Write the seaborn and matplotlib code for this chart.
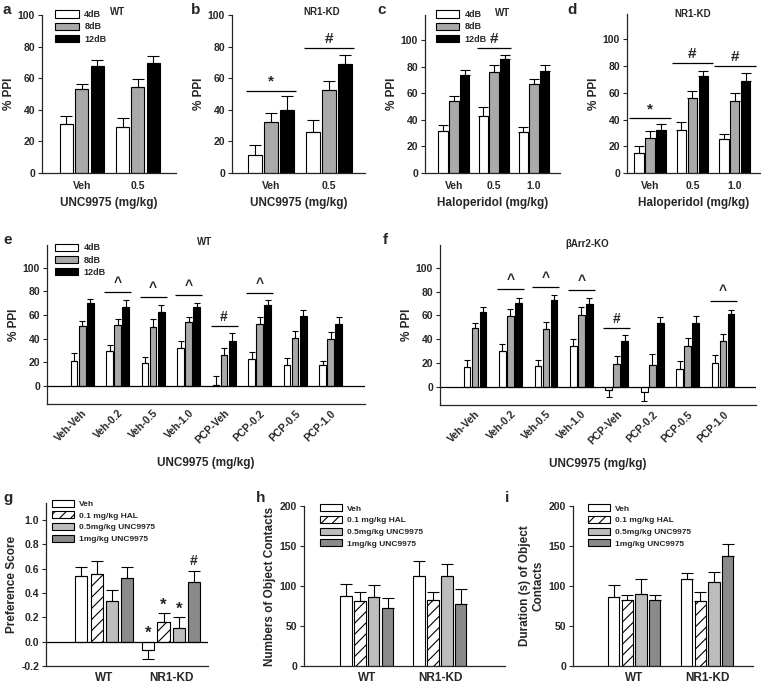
import numpy as np
import pandas as pd
import matplotlib
matplotlib.use('Agg')
import matplotlib.pyplot as plt
from matplotlib.container import BarContainer
import seaborn as sns

sns.set_style('ticks')
plt.rcParams['font.family'] = ['Liberation Sans', 'DejaVu Sans']
plt.rcParams['font.weight'] = 'bold'
plt.rcParams['axes.labelweight'] = 'bold'
plt.rcParams['hatch.linewidth'] = 0.8

# ---- data ----
db_levels = ['4dB', '8dB', '12dB']
db_colors = ['white', '#a9a9a9', 'black']

# a: WT, UNC9975
a_groups = ['Veh', '0.5']
a_4, a_4e = [31, 29], [5, 6]
a_8, a_8e = [53, 54.5], [3.5, 5]
a_12, a_12e = [67.5, 69.5], [4, 4.5]

# b: NR1-KD, UNC9975
b_groups = ['Veh', '0.5']
b_4, b_4e = [11.5, 26], [6, 7.5]
b_8, b_8e = [32, 52.5], [6, 6]
b_12, b_12e = [40, 69], [8.5, 6]
b_sig = [('Veh', 52, '*'), ('0.5', 79, '#')]

# c: WT, haloperidol
c_groups = ['Veh', '0.5', '1.0']
c_4, c_4e = [32, 43, 31], [4, 7, 4]
c_8, c_8e = [54.5, 76, 67], [3.5, 5, 4]
c_12, c_12e = [73.5, 86, 77], [4, 3, 4]
c_sig = [('0.5', 94, '#')]

# d: NR1-KD, haloperidol
d_groups = ['Veh', '0.5', '1.0']
d_4, d_4e = [15, 32, 25.5], [5, 6, 4]
d_8, d_8e = [26, 56, 54], [5.5, 5, 6]
d_12, d_12e = [32.5, 72.5, 69], [4.5, 4, 5.5]
d_sig = [('Veh', 41, '*'), ('0.5', 82, '#'), ('1.0', 80, '#')]

# e: WT, PCP + UNC9975
ef_groups = ['Veh-Veh', 'Veh-0.2', 'Veh-0.5', 'Veh-1.0',
             'PCP-Veh', 'PCP-0.2', 'PCP-0.5', 'PCP-1.0']
e_4 = [21.5, 29.5, 19.5, 32, 1, 23, 18, 17.5]
e_4e = [6.5, 5, 5.5, 6, 7.5, 6, 6, 4]
e_8 = [50.5, 52, 49.5, 54, 26, 52.5, 40.5, 39.5]
e_8e = [4.5, 5, 7, 4, 6, 5.5, 6, 6.5]
e_12 = [70, 67, 62.5, 66.5, 38, 68.5, 59.5, 52.5]
e_12e = [3.5, 5.5, 6, 4, 6.5, 4, 5, 5.5]
e_sig = [('Veh-0.2', 79, '^'), ('Veh-0.5', 75.5, '^'), ('Veh-1.0', 76.5, '^'),
         ('PCP-Veh', 51, '#'), ('PCP-0.2', 78.5, '^')]

# f: bArr2-KO, PCP + UNC9975
f_4 = [17, 30, 18, 34, -2.5, -4.5, 15.5, 20]
f_4e = [6, 6, 5, 6.5, 6, 7, 6.5, 6.5]
f_8 = [49.5, 59.5, 49, 60, 19, 18.5, 34.5, 38.5]
f_8e = [4.5, 5.5, 5.5, 7, 7, 9.5, 7, 6]
f_12 = [63, 70.5, 73, 69.5, 39, 54, 54, 61.5]
f_12e = [4, 4.5, 4, 5.5, 4.5, 5, 5.5, 3]
f_sig = [('Veh-0.2', 82, '^'), ('Veh-0.5', 83.5, '^'), ('Veh-1.0', 81, '^'),
         ('PCP-Veh', 49.5, '#'), ('PCP-1.0', 72.5, '^')]

# g-i: novel object recognition
nor_groups = ['WT', 'NR1-KD']
nor_levels = ['Veh', '0.1 mg/kg HAL', '0.5mg/kg UNC9975', '1mg/kg UNC9975']
nor_colors = ['white', 'white', '#bdbdbd', '#8a8a8a']

g_veh, g_vehe = [0.54, -0.07], [0.075, 0.07]
g_hal, g_hale = [0.555, 0.165], [0.11, 0.07]
g_u05, g_u05e = [0.335, 0.11], [0.09, 0.09]
g_u1, g_u1e = [0.525, 0.49], [0.085, 0.095]
g_marks = ['*', '*', '*', '#']
g_mark_y = [0.07, 0.30, 0.27, 0.66]

h_veh, h_vehe = [88, 113], [15, 18.5]
h_hal, h_hale = [81, 83], [12, 10]
h_u05, h_u05e = [86, 113], [15, 15]
h_u1, h_u1e = [72, 78], [13.5, 18.5]

i_veh, i_vehe = [86, 109], [15.5, 7.5]
i_hal, i_hale = [82, 81.5], [7, 10.5]
i_u05, i_u05e = [89.5, 105.5], [19.5, 12]
i_u1, i_u1e = [82, 138], [7, 15]

W, H = 761, 687
fig = plt.figure(figsize=(W / 100, H / 100), dpi=100)


def make_ax(l, r, t, b):
    return fig.add_axes([l / W, 1 - b / H, (r - l) / W, (b - t) / H])


def bar_conts(ax):
    return [c for c in ax.containers if isinstance(c, BarContainer)]


def bars(ax, groups, levels, colors, vals, errs, width, gap, cap, hatch=None):
    rows = []
    for lev, v in zip(levels, vals):
        for g, y in zip(groups, v):
            rows.append({'group': g, 'level': lev, 'val': y})
    df = pd.DataFrame(rows)
    sns.barplot(data=df, x='group', y='val', hue='level', order=groups,
                hue_order=levels, palette=colors, edgecolor='black',
                linewidth=0.8, errorbar=None, width=width, gap=gap,
                legend=False, ax=ax, saturation=1)
    for k, (cont, e) in enumerate(zip(bar_conts(ax), errs)):
        for bar, err in zip(cont, e):
            if hatch and hatch[k]:
                bar.set_hatch(hatch[k])
            x = bar.get_x() + bar.get_width() / 2
            h = bar.get_height()
            yerr = [[0], [err]] if h >= 0 else [[err], [0]]
            ax.errorbar(x, h, yerr=yerr, fmt='none', ecolor='black',
                        elinewidth=0.8, capsize=cap, capthick=0.8)
    ax.set_xlabel('')
    ax.set_ylabel('')
    sns.despine(ax=ax)
    ax.tick_params(axis='x', length=0, labelsize=7.5, pad=6)
    ax.tick_params(axis='y', length=3, width=0.8, labelsize=7.5, pad=2)
    for s in ax.spines.values():
        s.set_linewidth(0.9)


def sig_lines(ax, groups, sig, fs, pad=0.04):
    conts = bar_conts(ax)
    for name, y, txt in sig:
        j = groups.index(name)
        left = conts[0][j]
        right = conts[-1][j]
        x0 = left.get_x() - pad
        x1 = right.get_x() + right.get_width() + pad
        ax.hlines(y, x0, x1, color='black', lw=0.9)
        ax.annotate(txt, ((x0 + x1) / 2, y), xytext=(0, 1.5),
                    textcoords='offset points', ha='center', va='bottom',
                    fontsize=fs, fontweight='bold')


def legend(ax, labels, x, y, fs=6.5, spacing=0.35):
    handles = [c.patches[0] for c in bar_conts(ax)]
    ax.legend(handles, labels, loc='upper left', bbox_to_anchor=(x, y),
              frameon=False, fontsize=fs, handlelength=2.6, handleheight=0.9,
              labelspacing=spacing, handletextpad=0.6, borderaxespad=0,
              borderpad=0)


def fig_text(x, y, s, size, **kw):
    fig.text(x / W, 1 - y / H, s, fontsize=size, fontweight='bold',
             va='center', **kw)


# a
ax = make_ax(42, 176, 15, 173)
bars(ax, a_groups, db_levels, db_colors, [a_4, a_8, a_12],
     [a_4e, a_8e, a_12e], 0.82, 0.15, 4.5)
ax.set_ylim(0, 100)
ax.set_xlim(-0.71, 1.68)
ax.set_yticks(range(0, 101, 20))
ax.set_ylabel('% PPI', fontsize=8.5, labelpad=2)
ax.set_xlabel('UNC9975 (mg/kg)', fontsize=8.5, labelpad=4)
legend(ax, db_levels, 0.1, 1.03)

# b
ax = make_ax(232, 365, 15, 173)
bars(ax, b_groups, db_levels, db_colors, [b_4, b_8, b_12],
     [b_4e, b_8e, b_12e], 0.82, 0.15, 4.5)
sig_lines(ax, b_groups, b_sig, 11)
ax.set_ylim(0, 100)
ax.set_xlim(-0.67, 1.62)
ax.set_yticks(range(0, 101, 20))
ax.set_ylabel('% PPI', fontsize=8.5, labelpad=2)
ax.set_xlabel('UNC9975 (mg/kg)', fontsize=8.5, labelpad=4)

# c
ax = make_ax(425, 560, 15, 173)
bars(ax, c_groups, db_levels, db_colors, [c_4, c_8, c_12],
     [c_4e, c_8e, c_12e], 0.8, 0.12, 3.3)
sig_lines(ax, c_groups, c_sig, 11)
ax.set_ylim(0, 119)
ax.set_xlim(-0.72, 2.65)
ax.set_yticks(range(0, 101, 20))
ax.set_ylabel('% PPI', fontsize=8.5, labelpad=2)
ax.set_xlabel('Haloperidol (mg/kg)', fontsize=8.5, labelpad=4)
legend(ax, db_levels, 0.08, 1.03)

# d
ax = make_ax(627, 760, 14, 173)
bars(ax, d_groups, db_levels, db_colors, [d_4, d_8, d_12],
     [d_4e, d_8e, d_12e], 0.78, 0.12, 3.3)
sig_lines(ax, d_groups, d_sig, 11, pad=0.12)
ax.set_ylim(0, 119)
ax.set_xlim(-0.55, 2.6)
ax.set_yticks(range(0, 101, 20))
ax.set_ylabel('% PPI', fontsize=8.5, labelpad=2)
ax.set_xlabel('Haloperidol (mg/kg)', fontsize=8.5, labelpad=4)

# e, f
for (l, r, t, b), vals, errs, sig, xr in [
        ((47, 365, 245, 404), [e_4, e_8, e_12], [e_4e, e_8e, e_12e], e_sig, 7.97),
        ((440, 756, 245, 405), [f_4, f_8, f_12], [f_4e, f_8e, f_12e], f_sig, 7.93)]:
    ax = make_ax(l, r, t, b)
    bars(ax, ef_groups, db_levels, db_colors, vals, errs, 0.68, 0.16, 2.4)
    sig_lines(ax, ef_groups, sig, 10, pad=0.06)
    ax.axhline(0, color='black', lw=0.9)
    ax.set_ylim(-15, 119)
    ax.set_xlim(-0.99, xr)
    ax.set_yticks(range(0, 101, 20))
    ax.set_ylabel('% PPI', fontsize=8.5, labelpad=2)
    ax.set_xlabel('UNC9975 (mg/kg)', fontsize=8.5, labelpad=8)
    ax.tick_params(axis='x', labelsize=7.5, labelrotation=45, pad=3)
    plt.setp(ax.get_xticklabels(), ha='right', rotation_mode='anchor')
    if l < 100:
        legend(ax, db_levels, 0.025, 1.01)

hatches = [None, '///', None, None]

# g
ax = make_ax(46, 208, 503, 666)
bars(ax, nor_groups, nor_levels, nor_colors,
     [g_veh, g_hal, g_u05, g_u1], [g_vehe, g_hale, g_u05e, g_u1e],
     0.91, 0.2, 4.3, hatch=hatches)
ax.axhline(0, color='black', lw=0.9)
for cont, mk, my in zip(bar_conts(ax), g_marks, g_mark_y):
    bar = cont[1]
    ax.text(bar.get_x() + bar.get_width() / 2, my, mk, ha='center',
            va='center', fontsize=12 if mk == '*' else 10, fontweight='bold')
ax.set_ylim(-0.2, 1.14)
ax.set_xlim(-0.87, 1.55)
ax.set_yticks(np.arange(-0.2, 1.01, 0.2))
ax.set_yticklabels([f'{v:.1f}' for v in np.arange(-0.2, 1.01, 0.2)])
ax.set_ylabel('Preference Score', fontsize=8.5, labelpad=2)
ax.tick_params(axis='x', labelsize=8.5, pad=4)
legend(ax, nor_levels, 0.04, 1.02, fs=6, spacing=0.4)

# h
ax = make_ax(304, 505, 506, 666)
bars(ax, nor_groups, nor_levels, nor_colors,
     [h_veh, h_hal, h_u05, h_u1], [h_vehe, h_hale, h_u05e, h_u1e],
     0.76, 0.18, 4.0, hatch=hatches)
ax.set_ylim(0, 200)
ax.set_xlim(-0.86, 1.89)
ax.set_yticks(range(0, 201, 50))
ax.set_ylabel('Numbers of Object Contacts', fontsize=8.5, labelpad=3)
ax.tick_params(axis='x', labelsize=8.5, pad=4)
legend(ax, nor_levels, 0.08, 1.01, fs=6, spacing=0.4)

# i
ax = make_ax(573, 753, 506, 666)
bars(ax, nor_groups, nor_levels, nor_colors,
     [i_veh, i_hal, i_u05, i_u1], [i_vehe, i_hale, i_u05e, i_u1e],
     0.75, 0.18, 4.0, hatch=hatches)
ax.set_ylim(0, 200)
ax.set_xlim(-0.84, 1.63)
ax.set_yticks(range(0, 201, 50))
ax.set_ylabel('Duration (s) of Object\nContacts', fontsize=8.5, labelpad=3)
ax.tick_params(axis='x', labelsize=8.5, pad=4)
legend(ax, nor_levels, 0.083, 1.01, fs=6, spacing=0.4)

# panel titles and letters
for x, y, s in [(118, 12, 'WT'), (322, 12, 'NR1-KD'), (503, 13, 'WT'),
                (693, 14, 'NR1-KD'), (205, 242, 'WT'), (587, 244, 'βArr2-KO')]:
    fig_text(x, y, s, 7, ha='center')
for x, y, s in [(3, 10, 'a'), (191, 10, 'b'), (377, 10, 'c'), (567, 10, 'd'),
                (3, 240, 'e'), (383, 240, 'f'), (3, 498, 'g'), (256, 498, 'h'),
                (505, 498, 'i')]:
    fig_text(x, y, s, 11, ha='left')

fig.savefig('out.png', dpi=100)
